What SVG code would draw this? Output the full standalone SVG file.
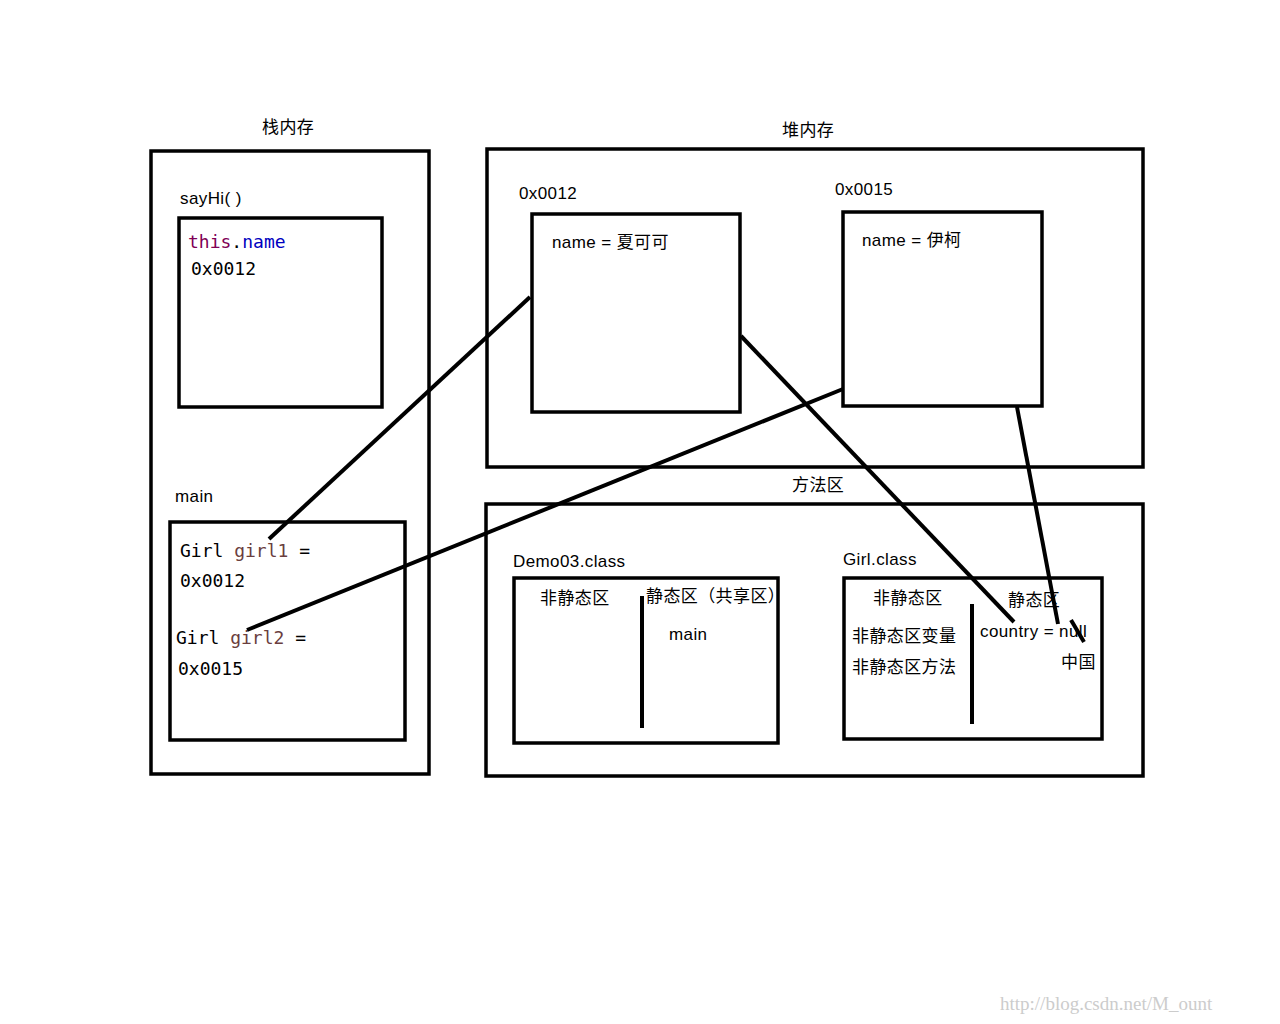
<svg xmlns="http://www.w3.org/2000/svg" width="1280" height="1024" viewBox="0 0 1280 1024">
<style>
.b{fill:none;stroke:#000;stroke-width:3.5}
.t{font-family:"Liberation Sans","Noto Sans CJK SC",sans-serif;font-size:17px;fill:#000;letter-spacing:0.4px}
.m{font-family:"DejaVu Sans Mono","Liberation Mono",monospace;font-size:18px;fill:#000}
.c{stroke:#000;stroke-width:4;fill:none}
.w{font-family:"Liberation Serif",serif;font-size:19px;fill:#ccc}
</style>
<rect width="1280" height="1024" fill="#fff"/>
<g id="stack">
<text class="t" x="262" y="133">栈内存</text>
<rect class="b" x="151" y="151" width="278" height="623"/>
</g>
<g id="sayHi">
<text class="t" x="180" y="204">sayHi( )</text>
<rect class="b" x="179" y="218" width="203" height="189"/>
<text class="m" x="188" y="248"><tspan fill="#7f0055">this</tspan>.<tspan fill="#0000c0">name</tspan></text>
<text class="m" x="191" y="275">0x0012</text>
</g>
<g id="main">
<text class="t" x="175" y="502">main</text>
<rect class="b" x="170" y="522" width="235" height="218"/>
<text class="m" x="180" y="557">Girl <tspan fill="#6a3e3e">girl1</tspan> =</text>
<text class="m" x="180" y="587">0x0012</text>
<text class="m" x="176" y="644">Girl <tspan fill="#6a3e3e">girl2</tspan> =</text>
<text class="m" x="178" y="675">0x0015</text>
</g>
<g id="heap">
<text class="t" x="782" y="136">堆内存</text>
<rect class="b" x="487" y="149" width="656" height="318"/>
</g>
<g id="obj1">
<text class="t" x="519" y="199">0x0012</text>
<rect class="b" x="532" y="214" width="208" height="198"/>
<text class="t" x="552" y="248">name = 夏可可</text>
</g>
<g id="obj2">
<text class="t" x="835" y="195">0x0015</text>
<rect class="b" x="843" y="212" width="199" height="194"/>
<text class="t" x="862" y="246">name = 伊柯</text>
</g>
<g id="method">
<text class="t" x="792" y="491">方法区</text>
<rect class="b" x="486" y="504" width="657" height="272"/>
</g>
<g id="demo">
<text class="t" x="513" y="567">Demo03.class</text>
<rect class="b" x="514" y="578" width="264" height="165"/>
<text class="t" x="540" y="604">非静态区</text>
<text class="t" x="646" y="602">静态区（共享区）</text>
<text class="t" x="669" y="640">main</text>
<line class="c" x1="642" y1="596" x2="642" y2="728"/>
</g>
<g id="girl">
<text class="t" x="843" y="565">Girl.class</text>
<rect class="b" x="844" y="578" width="258" height="161"/>
<text class="t" x="873" y="604">非静态区</text>
<text class="t" x="1008" y="606">静态区</text>
<text class="t" x="852" y="642">非静态区变量</text>
<text class="t" x="852" y="673">非静态区方法</text>
<text class="t" x="980" y="637">country = null</text>
<text class="t" x="1061" y="668">中国</text>
<line class="c" x1="972" y1="604" x2="972" y2="724"/>
</g>
<g id="connectors">
<line class="c" x1="530" y1="297" x2="269" y2="539"/>
<line class="c" x1="843" y1="389" x2="247" y2="630"/>
<line class="c" x1="741" y1="336" x2="1014" y2="622"/>
<line class="c" x1="1017" y1="407" x2="1058" y2="624"/>
<line class="c" x1="1071" y1="620" x2="1084" y2="642"/>
</g>
<text class="w" x="1000" y="1010">http://blog.csdn.net/M_ount</text>
</svg>
